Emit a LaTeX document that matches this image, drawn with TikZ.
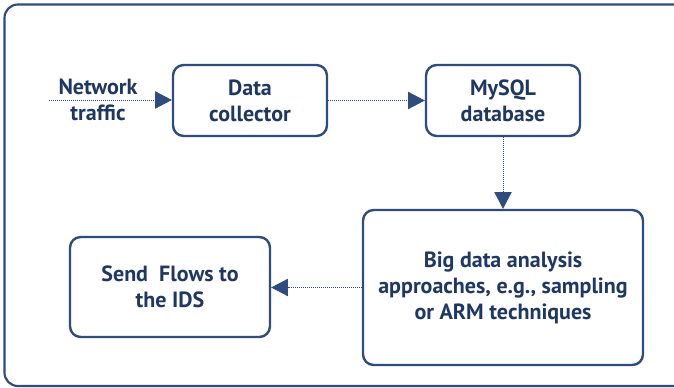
\documentclass[tikz,border=0pt]{standalone}
\usepackage{fontspec}
\setmainfont{PT Sans}
\usepackage{xcolor}
\definecolor{frame}{HTML}{2F4C7E}
\definecolor{ink}{HTML}{1F3763}
\usepackage{tikz}
\usetikzlibrary{arrows.meta, positioning}

\begin{document}
\begin{tikzpicture}[
    x=0.75pt, y=-0.75pt,
    label text/.style={font=\bfseries\fontsize{16.5}{19.5}\selectfont, text=ink, align=center},
    box/.style={label text, draw=frame, fill=white, rounded corners=8pt, line width=1.8pt, inner sep=2pt},
    arrow/.style={-{Triangle[length=12.5pt, width=13pt]}, densely dotted, line width=0.5pt, color=frame}
]
\useasboundingbox (0,0) rectangle (674,388);
\draw[frame, line width=1.6pt, rounded corners=10pt] (4.5,4.5) rectangle (690,386);

% Top row
\node[box, minimum width=154*0.75pt, minimum height=71*0.75pt] (dc) at (250,100.5) {Data\\collector};
\node[box, minimum width=154*0.75pt, minimum height=71*0.75pt] (db) at (503,100.5) {MySQL\\database};
\node[label text] (nt) at (98,100) {Network\\traffic};
\coordinate (src) at (49,100);

% Bottom row
\node[box, minimum width=280*0.75pt, minimum height=155*0.75pt] (bd) at (503,287.5) {Big data analysis\\approaches, e.g., sampling\\or ARM techniques};
\node[box, minimum width=200*0.75pt, minimum height=100*0.75pt] (ids) at (170,287) {Send~~Flows to\\the IDS};

% Connectors
\draw[arrow] (src) -- (src -| dc.west);
\draw[arrow] (dc) -- (db);
\draw[arrow] (db.south) -- (db.south |- bd.north);
\draw[arrow] (bd.west) -- (ids.east |- bd.west);

\end{tikzpicture}
\end{document}
